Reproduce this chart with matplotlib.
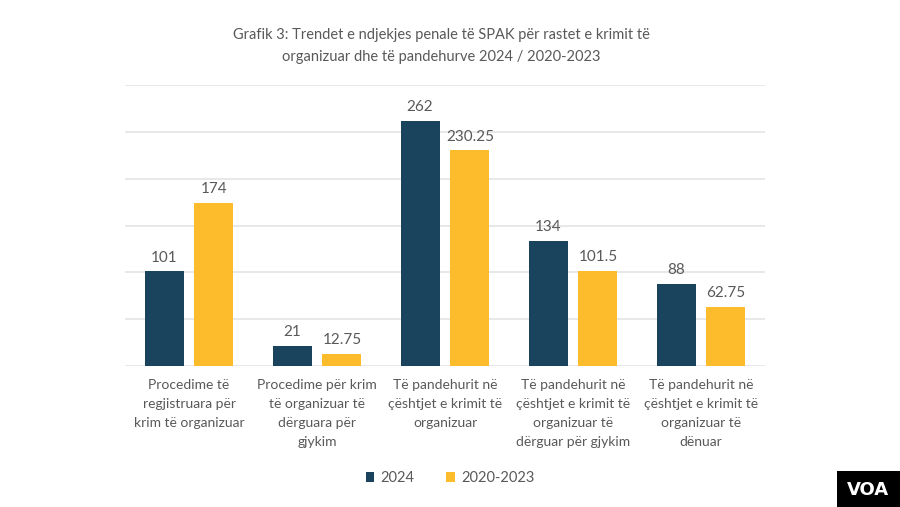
import matplotlib.pyplot as plt
import matplotlib.patches as patches
import numpy as np

categories = [
    'Procedime të\nregjistruara për\nkrim të organizuar',
    'Procedime për krim\ntë organizuar të\ndërguara për\ngjykim',
    'Të pandehurit në\nçështjet e krimit të\norganizuar',
    'Të pandehurit në\nçështjet e krimit të\norganizuar të\ndërguar për gjykim',
    'Të pandehurit në\nçështjet e krimit të\norganizuar të\ndënuar',
]
values_2024 = [101, 21, 262, 134, 88]
values_avg = [174, 12.75, 230.25, 101.5, 62.75]
labels_2024 = ['101', '21', '262', '134', '88']
labels_avg = ['174', '12.75', '230.25', '101.5', '62.75']
series_names = ['2024', '2020-2023']

navy = '#1a435d'
gold = '#fcbc2c'
grey_text = '#595959'

plt.rcParams['font.family'] = ['Lato', 'DejaVu Sans']

fig = plt.figure(figsize=(9, 5.07), dpi=100)
ax = fig.add_axes([0.1389, 0.278, 0.7111, 0.554])

x = np.arange(len(categories))
w = 0.305
off = 0.195
b1 = ax.bar(x - off, values_2024, w, color=navy, label=series_names[0], zorder=3)
b2 = ax.bar(x + off, values_avg, w, color=gold, label=series_names[1], zorder=3)

for bars, labs in ((b1, labels_2024), (b2, labels_avg)):
    for bar, lab in zip(bars, labs):
        ax.annotate(lab, (bar.get_x() + bar.get_width() / 2, bar.get_height()),
                    xytext=(0, 5), textcoords='offset points',
                    ha='center', va='bottom', fontsize=11, color=grey_text)

ax.set_xlim(-0.5, len(categories) - 0.5)
ax.set_ylim(0, 300)
ax.set_yticks(np.arange(0, 301, 50))
ax.yaxis.grid(True, color='#e4e4e4', linewidth=1.2, zorder=0)
ax.tick_params(axis='y', left=False, labelleft=False)
ax.tick_params(axis='x', length=0, pad=9)
ax.set_xticks(x)
ax.set_xticklabels(categories, fontsize=10, color=grey_text, linespacing=1.7)
for s in ax.spines.values():
    s.set_visible(False)

fig.text(0.49, 0.909, 'Grafik 3: Trendet e ndjekjes penale të SPAK për rastet e krimit të\n'
         'organizuar dhe të pandehurve 2024 / 2020-2023',
         ha='center', va='center', fontsize=10.5, color=grey_text, linespacing=1.75)

fig.legend(handles=[b1, b2], labels=series_names, loc='center', bbox_to_anchor=(0.5, 0.057),
           ncol=2, frameon=False, fontsize=10.5, handlelength=0.6, handleheight=0.6,
           handletextpad=0.4, columnspacing=2.2, labelcolor=grey_text)

# VOA logo
fig.patches.append(patches.Rectangle((837 / 900, 0), 63 / 900, 36 / 507,
                                     transform=fig.transFigure, facecolor='black',
                                     edgecolor='none'))
fig.text(868 / 900, 17 / 507, 'VOA', ha='center', va='center', fontsize=13,
         fontweight='bold', color='white', family='DejaVu Sans')

fig.savefig('out.png', dpi=100, facecolor='white')
